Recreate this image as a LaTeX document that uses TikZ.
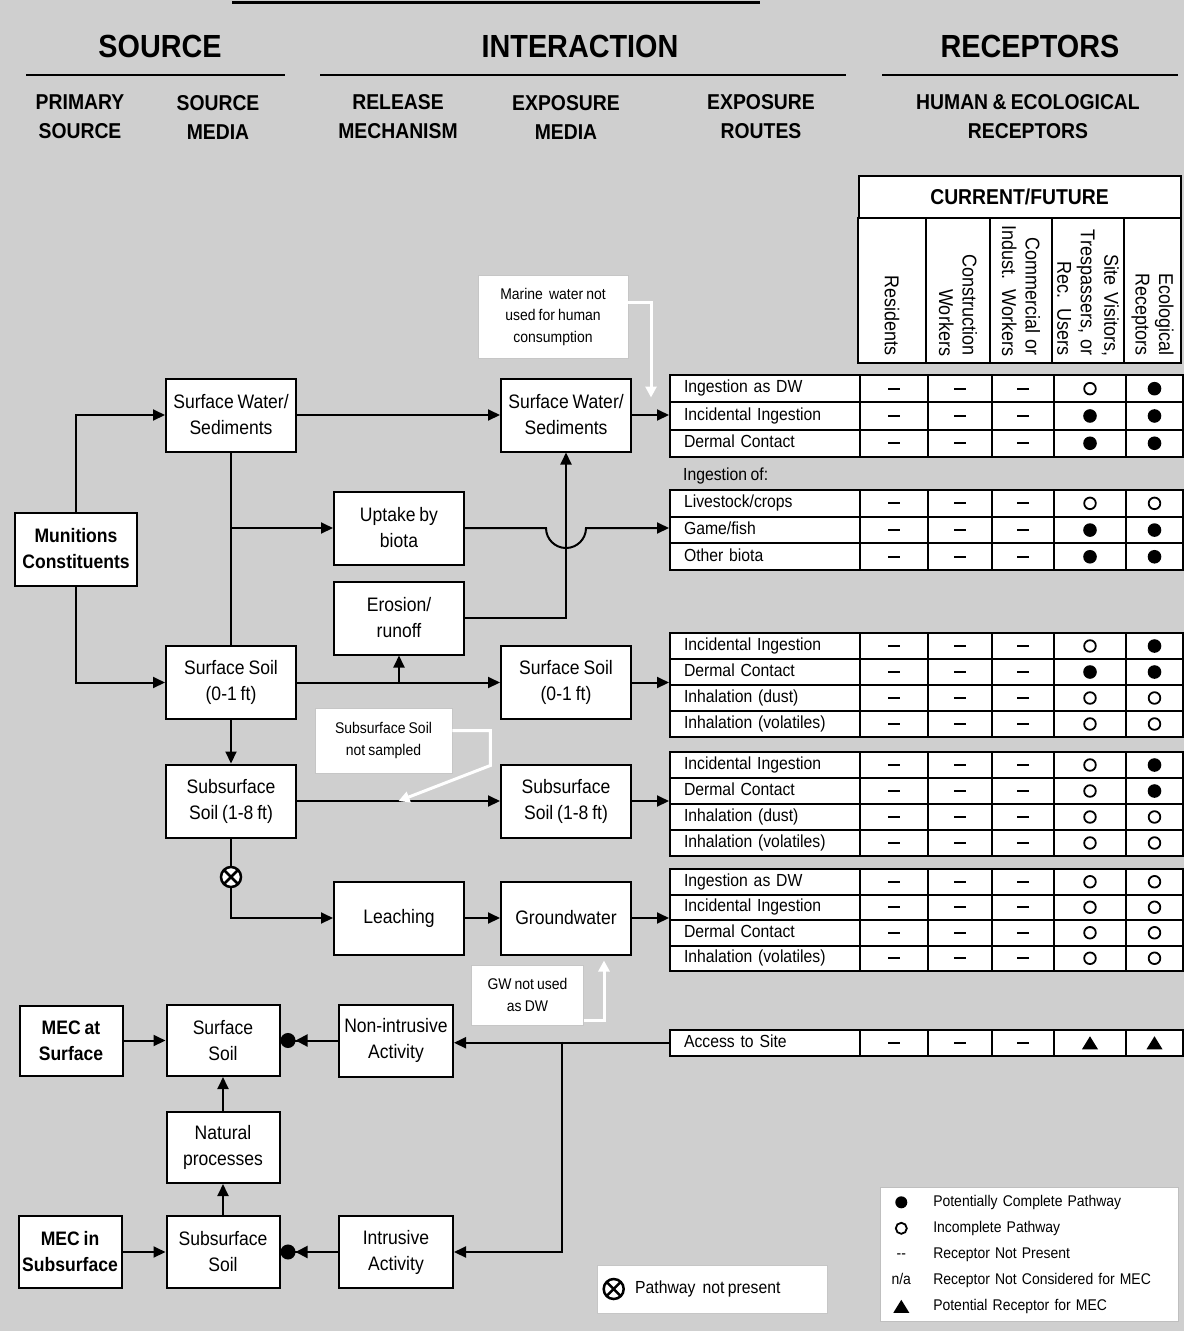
\documentclass[tikz,border=0pt]{standalone}
\usepackage{fontspec}
\setmainfont{Liberation Sans}[FakeStretch=0.9,WordSpace=0.8]
\usetikzlibrary{matrix,positioning,calc,arrows.meta}

\newcommand{\nop}{\rule[3.2pt]{12pt}{2.2pt}}

\tikzset{
  stage/.style={draw, line width=2pt, fill=white, align=center,
    minimum width=130pt, minimum height=73pt, inner sep=2pt,
    font=\fontsize{19.5}{26}\selectfont},
  srcstage/.style={stage, font=\bfseries\fontsize{19.5}{26}\selectfont},
  head/.style={font=\bfseries\fontsize{32}{38}\selectfont},
  subhead/.style={align=center, font=\bfseries\fontsize{21.5}{29}\selectfont},
  flow/.style={draw, line width=2pt, -{Triangle[length=12pt,width=11pt]}},
  link/.style={draw, line width=2pt},
  dotflow/.style={draw, line width=2pt,
    -{Triangle[length=12pt,width=12pt] Circle[length=15pt]}},
  note/.style={fill=white, draw=gray!45, line width=0.6pt, align=center,
    inner sep=0pt, font=\fontsize{15.5}{21.5}\selectfont},
  callout/.style={draw=white, line width=3pt, -{Triangle[length=11pt,width=11pt]}},
  xmark/.style={circle, draw, fill=white, line width=2.5pt, minimum size=20pt,
    inner sep=0pt, path picture={
      \draw[line width=2.5pt] (path picture bounding box.north west) -- (path picture bounding box.south east)
        (path picture bounding box.north east) -- (path picture bounding box.south west);}},
  dotfull/.style={path picture={\fill[black] (path picture bounding box.center) circle (#1);}},
  dotfull/.default=6.8pt,
  dotopen/.style={path picture={\draw[black, line width=1.8pt] (path picture bounding box.center) circle (#1);}},
  dotopen/.default=5.8pt,
  tripot/.style={path picture={\fill[black] ([yshift=6.5pt]path picture bounding box.center)
      -- ++(-8pt,-13pt) -- ++(16pt,0pt) -- cycle;}},
  cfhead/.style={draw, line width=2pt, fill=white, minimum width=322pt,
    minimum height=42pt, font=\bfseries\fontsize{21.5}{26}\selectfont},
  colhead/.style={draw, line width=2pt, fill=white, rotate=-90,
    minimum width=145pt, minimum height=#1, text width=131pt,
    inner xsep=7pt, inner ysep=0pt, align=right,
    font=\fontsize{20}{23.5}\selectfont},
  routetab/.style={
    matrix of nodes,
    nodes in empty cells,
    anchor=north west,
    inner sep=0pt,
    line width=2pt,
    column sep=-2pt,
    row sep=-2pt,
    nodes={draw, fill=white, anchor=center, inner sep=0pt,
      minimum height=#1, text height=12.5pt, text depth=4pt,
      font=\fontsize{17.5}{20}\selectfont},
    column 1/.style={nodes={text width=162pt, inner xsep=14pt, align=left}},
    column 2/.style={nodes={minimum width=68pt}},
    column 3/.style={nodes={minimum width=64pt}},
    column 4/.style={nodes={minimum width=62pt}},
    column 5/.style={nodes={minimum width=72pt}},
    column 6/.style={nodes={minimum width=57pt}}
  },
  routetab/.default=26pt,
  legmat/.style={
    matrix of nodes,
    nodes in empty cells,
    anchor=north west,
    draw=gray!50, fill=white, line width=0.6pt, inner sep=2pt,
    nodes={anchor=center, inner sep=0pt, minimum height=26pt,
      text height=11pt, text depth=3.5pt,
      font=\fontsize{15.5}{18}\selectfont},
    column 1/.style={nodes={minimum width=38pt}},
    column 2/.style={nodes={text width=230pt, inner xsep=13pt, align=left}}
  }
}

\begin{document}
\begin{tikzpicture}[x=1pt,y=-1pt]
\useasboundingbox (0,0) rectangle (1184,1331);
\fill[black!19] (0,0) rectangle (1184,1331);
\draw[line width=3pt] (232,2) -- (760,2);

% headings
\node[head] (hsrc) at (160,46) {SOURCE};
\node[head] (hint) at (580,46) {INTERACTION};
\node[head] (hrec) at (1030,46) {RECEPTORS};
\draw[line width=1.6pt] (26,75) -- (285,75);
\draw[line width=1.6pt] (320,75) -- (846,75);
\draw[line width=1.6pt] (882,75) -- (1178,75);

\node[subhead] (primary) at (80,117) {PRIMARY\\SOURCE};
\node[subhead] (srcmedia) at (218,117) {SOURCE\\MEDIA};
\node[subhead] (release) at (398,117) {RELEASE\\MECHANISM};
\node[subhead] (expmedia) at (566,117) {EXPOSURE\\MEDIA};
\node[subhead] (routes) at (761,117) {EXPOSURE\\ROUTES};
\node[subhead] (human) at (1028,117) {HUMAN \& ECOLOGICAL\\RECEPTORS};

% receptor header
\node[cfhead] (cf) at (1019.5,197) {CURRENT/FUTURE};
\node[colhead=68pt] (hres) at (892,290.5) {Residents};
\node[colhead=64pt] (hcon) at (958,290.5) {Construction\\Workers};
\node[colhead=62pt] (hcom) at (1021,290.5) {Commercial or\\Indust. Workers};
\node[colhead=72pt] (hvis) at (1088,290.5) {Site Visitors,\\Trespassers, or\\Rec. Users};
\node[colhead=57pt] (heco) at (1152.5,290.5) {Ecological\\Receptors};

% exposure route tables
\matrix[routetab=27.3pt] (sw) at (668,373) {
  Ingestion as DW & \nop & \nop & \nop & |[dotopen]| & |[dotfull]| \\
  Incidental Ingestion & \nop & \nop & \nop & |[dotfull]| & |[dotfull]| \\
  Dermal Contact & \nop & \nop & \nop & |[dotfull]| & |[dotfull]| \\
};
\node[anchor=west, inner sep=0pt, font=\fontsize{17.5}{20}\selectfont] (ingof) at (683,476) {Ingestion of:};
\matrix[routetab=26.7pt] (bio) at (668,488) {
  Livestock/crops & \nop & \nop & \nop & |[dotopen]| & |[dotopen]| \\
  Game/fish & \nop & \nop & \nop & |[dotfull]| & |[dotfull]| \\
  Other biota & \nop & \nop & \nop & |[dotfull]| & |[dotfull]| \\
};
\matrix[routetab=26pt] (ss) at (668,631) {
  Incidental Ingestion & \nop & \nop & \nop & |[dotopen]| & |[dotfull]| \\
  Dermal Contact & \nop & \nop & \nop & |[dotfull]| & |[dotfull]| \\
  Inhalation (dust) & \nop & \nop & \nop & |[dotopen]| & |[dotopen]| \\
  Inhalation (volatiles) & \nop & \nop & \nop & |[dotopen]| & |[dotopen]| \\
};
\matrix[routetab=26pt] (sub) at (668,750) {
  Incidental Ingestion & \nop & \nop & \nop & |[dotopen]| & |[dotfull]| \\
  Dermal Contact & \nop & \nop & \nop & |[dotopen]| & |[dotfull]| \\
  Inhalation (dust) & \nop & \nop & \nop & |[dotopen]| & |[dotopen]| \\
  Inhalation (volatiles) & \nop & \nop & \nop & |[dotopen]| & |[dotopen]| \\
};
\matrix[routetab=25.5pt] (gwt) at (668,867) {
  Ingestion as DW & \nop & \nop & \nop & |[dotopen]| & |[dotopen]| \\
  Incidental Ingestion & \nop & \nop & \nop & |[dotopen]| & |[dotopen]| \\
  Dermal Contact & \nop & \nop & \nop & |[dotopen]| & |[dotopen]| \\
  Inhalation (volatiles) & \nop & \nop & \nop & |[dotopen]| & |[dotopen]| \\
};
\matrix[routetab=25.5pt] (acc) at (668,1028) {
  Access to Site & \nop & \nop & \nop & |[tripot]| & |[tripot]| \\
};

% munitions constituents
\node[srcstage, minimum width=122pt] (mc) at (76,549) {Munitions\\Constituents};
\node[stage] (swsrc) at (231,415) {Surface Water/\\Sediments};
\node[stage] (sssrc) at (231,682.5) {Surface Soil\\(0-1 ft)};
\node[stage] (subsrc) at (231,801) {Subsurface\\Soil (1-8 ft)};
\node[stage] (uptake) at (399,528) {Uptake by\\biota};
\node[stage] (erosion) at (399,618) {Erosion/\\runoff};
\node[stage] (leach) at (399,918) {Leaching};
\node[stage] (swexp) at (566,415) {Surface Water/\\Sediments};
\node[stage] (ssexp) at (566,682.5) {Surface Soil\\(0-1 ft)};
\node[stage] (subexp) at (566,801) {Subsurface\\Soil (1-8 ft)};
\node[stage] (gw) at (566,918) {Groundwater};

\draw[flow] (mc.north) |- (swsrc.west);
\draw[flow] (mc.south) |- (sssrc.west);
\draw[flow] (swsrc) -- (swexp);
\draw[link] (swsrc.south) -- (sssrc.north);
\draw[flow] (swsrc.south |- uptake.west) -- (uptake.west);
\coordinate (hop) at (swexp.south |- uptake.east);
\draw[flow] (uptake.east) -- ([xshift=-20pt]hop)
  arc[start angle=180, end angle=360, radius=20pt] -- (uptake.east -| bio-2-1.west);
\draw[flow] (erosion.east) -| (swexp.south);
\draw[flow] (sssrc) -- (ssexp);
\draw[flow] (sssrc.east -| erosion.south) -- (erosion.south);
\draw[flow] (sssrc) -- (subsrc);
\draw[flow] (subsrc) -- (subexp);
\draw[flow] (subsrc.south) |- (leach.west);
\node[xmark] (nopath) at (231,877) {};
\draw[flow] (leach) -- (gw);

\draw[flow] (swexp.east) -- (swexp.east -| sw-2-1.west);
\draw[flow] (ssexp.east) -- (ssexp.east -| ss-2-1.south west);
\draw[flow] (subexp.east) -- (subexp.east -| sub-2-1.south west);
\draw[flow] (gw.east) -- (gw.east -| gwt-2-1.south west);

% notes
\node[note, minimum width=150pt, minimum height=83pt] (marine) at (553,316.5)
  {Marine~ water not\\used for human\\consumption};
\coordinate (mtip) at ([xshift=19pt,yshift=-20pt]swexp.north east);
\draw[callout] ([yshift=14pt]marine.east) -| (mtip);

\node[note, minimum width=137pt, minimum height=65pt] (nosample) at (383.5,740.5)
  {Subsurface Soil\\not sampled};
\coordinate (nstip) at ($(subsrc.east)!0.5!(subexp.west)$);
\draw[callout] ([yshift=10pt]nosample.east) -- ++(38,0) -- ++(0,35) -- (nstip);

\node[note, minimum width=112pt, minimum height=60pt] (gwnote) at (527.5,995)
  {GW not used\\as DW};
\coordinate (gwtip) at ([xshift=-28pt,yshift=-5pt]gw.south east);
\draw[callout] ([yshift=-25pt]gwnote.east) -| (gwtip);

% munitions and explosives of concern
\node[srcstage, minimum width=103pt, minimum height=70pt] (mecsurf) at (71,1040.5) {MEC at\\Surface};
\node[stage, minimum width=113pt, minimum height=71pt] (ssmec) at (223,1040.5) {Surface\\Soil};
\node[stage, minimum width=114pt, minimum height=72pt] (nonint) at (396,1040.5) {Non-intrusive\\Activity};
\node[stage, minimum width=113pt, minimum height=71pt] (natural) at (223,1147.5) {Natural\\processes};
\node[srcstage, minimum width=103pt, minimum height=72pt] (mecsub) at (70,1252) {MEC in\\Subsurface};
\node[stage, minimum width=113pt, minimum height=72pt] (subsmec) at (223,1252) {Subsurface\\Soil};
\node[stage, minimum width=114pt, minimum height=72pt] (intr) at (396,1252) {Intrusive\\Activity};

\draw[flow] (mecsurf) -- (ssmec);
\draw[flow] (mecsub) -- (subsmec);
\draw[flow] (natural) -- (ssmec);
\draw[flow] (subsmec) -- (natural);
\draw[dotflow] (nonint) -- (ssmec);
\draw[dotflow] (intr) -- (subsmec);
\draw[flow] (acc-1-1.west) -- (acc-1-1.west -| nonint.east);
\coordinate (split) at ($(nonint.east)!0.5!(acc-1-1.west)$);
\draw[flow] (split) |- (intr.east);

% legend
\node[note, minimum width=230pt, minimum height=48pt] (pnp) at (712,1289) {};
\node[xmark] (pnpmark) at ([xshift=17pt]pnp.west) {};
\node[right=10pt of pnpmark, inner sep=0pt, font=\fontsize{17.5}{20}\selectfont] (pnptext) {Pathway~~not present};

\matrix[legmat] (leg) at (880,1187) {
  |[dotfull=6pt]| & Potentially Complete Pathway \\
  |[dotopen=5.5pt]| & Incomplete Pathway \\
  -{}- & Receptor Not Present \\
  n/a & Receptor Not Considered for MEC \\
  |[tripot]| & Potential Receptor for MEC \\
};
\end{tikzpicture}
\end{document}
